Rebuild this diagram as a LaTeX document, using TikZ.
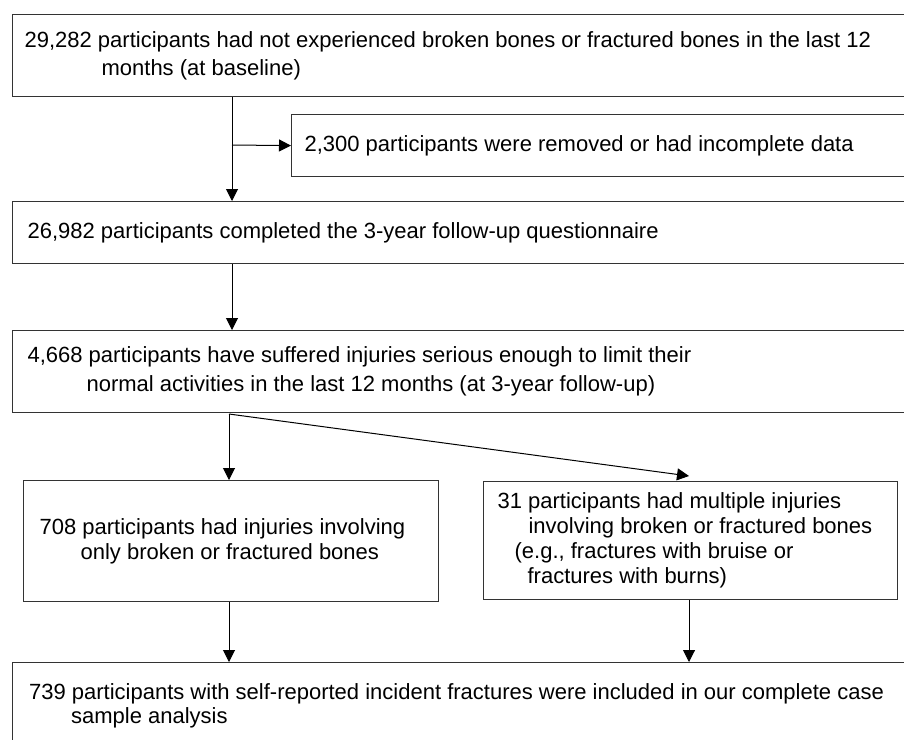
\documentclass[tikz,border=0pt]{standalone}
\usepackage{fontspec}
\setmainfont{Liberation Sans}
\usetikzlibrary{arrows.meta}

\begin{document}
\begin{tikzpicture}[x=1pt, y=-1pt, font=\fontsize{22}{25}\selectfont,
    box/.style={draw=black!80, line width=1.2pt, rectangle, anchor=north west, align=flush left, inner ysep=0pt},
    arr/.style={draw=black, line width=1pt, -{Triangle[length=12pt, width=12pt]}}]
    \useasboundingbox (0, 0) rectangle (904, 739);

    \node[box, inner xsep=12pt, text width=894pt, minimum height=82pt] (baseline) at (12, 14)
        {29,282 participants had not experienced broken bones or fractured bones in the last 12\\[3pt]
        \hspace*{77pt}months (at baseline)};
    \node[box, inner xsep=13pt, text width=613pt, minimum height=62pt] (removed) at (291, 114)
        {2,300 participants were removed or had incomplete data};
    \node[box, inner xsep=15pt, text width=888pt, minimum height=62pt] (followup) at (12, 201)
        {26,982 participants completed the 3-year follow-up questionnaire};
    \node[box, inner xsep=15pt, text width=888pt, minimum height=82pt] (injured) at (12, 330)
        {4,668 participants have suffered injuries serious enough to limit their\\[4pt]
        \hspace*{59pt}normal activities in the last 12 months (at 3-year follow-up)};
    \node[box, inner xsep=16pt, text width=383pt, minimum height=121pt] (only) at (23, 480)
        {708 participants had injuries involving\\
        \hspace*{41pt}only broken or fractured bones};
    \node[box, inner xsep=14pt, text width=386pt, minimum height=118pt] (multiple) at (483, 481)
        {31 participants had multiple injuries\\
        \hspace*{31pt}involving broken or fractured bones\\
        \hspace*{17pt}(e.g., fractures with bruise or\\
        \hspace*{30pt}fractures with burns)};
    \node[box, inner xsep=16.5pt, text width=885pt, minimum height=86pt] (sample) at (12, 662)
        {739 participants with self-reported incident fractures were included in our complete case\\[-1pt]
        \hspace*{42pt}sample analysis};

    \coordinate (split) at (232, 145);
    \coordinate (fork) at (229, 414);
    \coordinate (rcol) at (689, 0);

    \draw[arr] (baseline.south -| split) -- (followup.north -| split);
    \draw[arr] (split) -- (removed.west);
    \draw[arr] (followup.south -| split) -- (injured.north -| split);
    \draw[arr] (fork) -- (only.north -| fork);
    \draw[arr] (fork) -- ([yshift=5pt]multiple.north -| rcol);
    \draw[arr] (only.south -| fork) -- (sample.north -| fork);
    \draw[arr] (multiple.south -| rcol) -- (sample.north -| rcol);
\end{tikzpicture}
\end{document}
